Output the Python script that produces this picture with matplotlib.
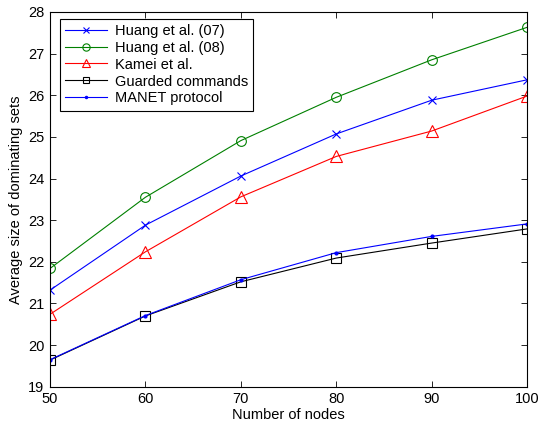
import matplotlib
matplotlib.use("Agg")
import matplotlib.pyplot as plt

plt.rcParams['font.family'] = ['Liberation Sans', 'DejaVu Sans']

nodes = [50, 60, 70, 80, 90, 100]
huang07 = [21.32, 22.88, 24.06, 25.07, 25.88, 26.37]
huang08 = [21.84, 23.55, 24.91, 25.95, 26.85, 27.63]
kamei = [20.74, 22.24, 23.56, 24.53, 25.14, 25.98]
guarded = [19.64, 20.70, 21.52, 22.09, 22.45, 22.79]
manet = [19.65, 20.71, 21.57, 22.22, 22.61, 22.91]

labels = ['Huang et al. (07)', 'Huang et al. (08)', 'Kamei et al.',
          'Guarded commands', 'MANET protocol']
yticks = [19, 20, 21, 22, 23, 24, 25, 26, 27, 28]

fig = plt.figure(figsize=(5.39, 4.25), dpi=100)
ax = fig.add_axes([0.0928, 0.090, 0.978 - 0.0928, 0.972 - 0.090])

lw = 0.8
ax.plot(nodes, huang07, color='#0000ff', marker='x', ms=6, mew=0.8, lw=lw, label=labels[0])
ax.plot(nodes, huang08, color='#008000', marker='o', ms=7, mfc='none', mew=0.8, lw=lw, label=labels[1])
ax.plot(nodes, kamei, color='#ff0000', marker='^', ms=8, mfc='none', mew=0.8, lw=lw, label=labels[2])
ax.plot(nodes, guarded, color='black', marker='s', ms=6.5, mfc='none', mew=0.8, lw=lw, label=labels[3])
ax.plot(nodes, manet, color='#0000ff', marker='.', ms=4, lw=lw, label=labels[4])

ax.set_xlim(50, 100)
ax.set_ylim(19, 28)
ax.set_xticks(nodes)
ax.set_yticks(yticks)
ax.tick_params(direction='in', top=True, right=True, labelsize=10.5, length=4, width=0.6, pad=4)
for s in ax.spines.values():
    s.set_linewidth(0.8)

ax.set_xlabel('Number of nodes', fontsize=10.5, labelpad=1)
ax.set_ylabel('Average size of dominating sets', fontsize=10.5, labelpad=4)

leg = ax.legend(loc='upper left', fontsize=10.5, handlelength=2.9, frameon=True,
                fancybox=False, edgecolor='black', framealpha=1,
                borderpad=0.35, labelspacing=0.2, handletextpad=0.5,
                bbox_to_anchor=(0.021, 0.982), borderaxespad=0, markerscale=0.75)
leg.get_frame().set_linewidth(0.8)

fig.savefig('out.png', dpi=100)
